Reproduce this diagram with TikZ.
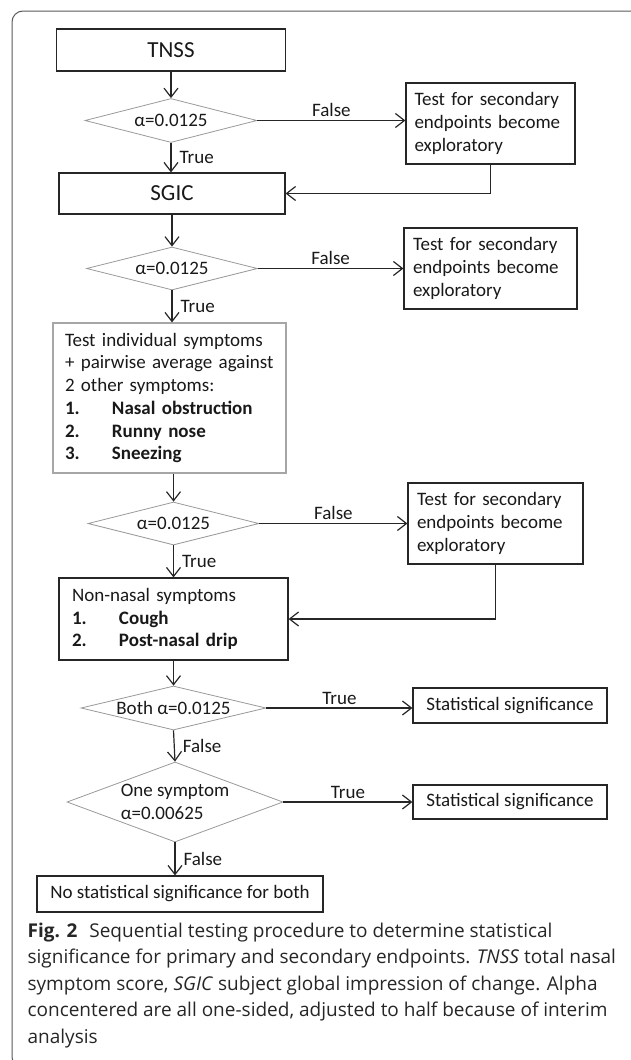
\documentclass[tikz,border=0pt]{standalone}
\usepackage{fontspec}
\setmainfont{Carlito}
\newfontfamily\capfont{Open Sans}
\usetikzlibrary{shapes.geometric,arrows.meta}
\newcommand{\listrow}[2]{\makebox[47pt][l]{\textbf{#1}}\textbf{#2}}
\begin{document}
\begin{tikzpicture}[
    x=1pt, y=-1pt,
    line width=1.2pt,
    every node/.style={font=\fontsize{19}{22.7}\selectfont, text=black!90},
    box/.style={draw=black!85, rectangle, inner sep=0pt},
    graybox/.style={draw=black!35, rectangle, inner sep=0pt},
    decision/.style={draw=black!40, line width=0.8pt, diamond, aspect=3.9, inner sep=0pt},
    flow/.style={draw=black!85, -{Straight Barb[length=9pt,width=14pt]}},
    tag/.style={inner sep=3pt},
    sidetag/.style={inner sep=3pt, right=5pt}]
  \useasboundingbox (0,0) rectangle (630,1060);
  % outer frame
  \draw[black!65, line width=1pt, rounded corners=11pt] (12,11) rectangle (642,1068);

  % primary endpoint
  \node[box, minimum width=229pt, minimum height=42pt,
        font=\fontsize{23}{27}\selectfont] (tnss) at (171,50) {TNSS};
  \node[decision, minimum width=172pt, minimum height=44pt] (d1) at (171,120.5) {α=0.0125};
  \node[box, text width=152pt, inner xsep=8.5pt, minimum height=81pt, align=left]
        (sec1) at (490.5,123.5) {Test for secondary\\endpoints become\\exploratory};

  % key secondary endpoint
  \node[box, minimum width=226pt, minimum height=41pt,
        font=\fontsize{23}{27}\selectfont] (sgic) at (172,193.5) {SGIC};
  \node[decision, minimum width=171pt, minimum height=43pt] (d2) at (172,268.5) {α=0.0125};
  \node[box, text width=155pt, inner xsep=9pt, minimum height=81pt, align=left]
        (sec2) at (490.5,268.5) {Test for secondary\\endpoints become\\exploratory};

  % individual symptoms
  \node[graybox, text width=209pt, inner xsep=12pt, minimum height=150pt, align=left]
        (indiv) at (169.5,398) {Test individual symptoms\\+ pairwise average against\\2 other symptoms:\\
        \listrow{1.}{Nasal obstruction}\\\listrow{2.}{Runny nose}\\\listrow{3.}{Sneezing}};
  \node[decision, minimum width=171pt, minimum height=43pt] (d3) at (173.5,523.5) {α=0.0125};
  \node[box, text width=157pt, inner xsep=9pt, minimum height=81pt, align=left]
        (sec3) at (495.5,523.5) {Test for secondary\\endpoints become\\exploratory};

  % non-nasal symptoms
  \node[box, text width=203pt, inner xsep=13pt, minimum height=82pt, align=left]
        (nonnasal) at (173.5,619) {Non-nasal symptoms\\\listrow{1.}{Cough}\\\listrow{2.}{Post-nasal drip}};
  \node[decision, minimum width=185pt, minimum height=44pt] (d4) at (173.5,708) {Both α=0.0125};
  \node[box, minimum width=194pt, minimum height=35pt] (sig1) at (510,705.5) {Statistical significance};
  \node[decision, aspect=2.7, minimum width=216pt, minimum height=80pt, align=left] (d5) at (175,802)
        {One symptom\\α=0.00625};
  \node[box, minimum width=194pt, minimum height=34pt] (sig2) at (510,802) {Statistical significance};
  \node[box, minimum width=286pt, minimum height=36pt] (nosig) at (180,894)
        {No statistical significance for both};

  % connectors
  \draw[flow] (tnss.south) -- (d1.north);
  \draw[flow] (d1.east) -- node[tag, above] {False} (d1.east -| sec1.west);
  \draw[flow] (d1.south) -- node[sidetag] {True} (d1.south |- sgic.north);
  \draw[flow] (sec1.south) |- (sgic.east);
  \draw[flow] (sgic.south) -- (sgic.south |- d2.north);
  \draw[flow] (d2.east) -- node[tag, above] {False} (d2.east -| sec2.west);
  \draw[flow] (d2.south) -- node[sidetag] {True} (d2.south |- indiv.north);
  \draw[flow] (d3.south |- indiv.south) -- (d3.north);
  \draw[flow] (d3.east) -- node[tag, above] {False} (d3.east -| sec3.west);
  \draw[flow] (d3.south) -- node[sidetag] {True} (nonnasal.north);
  \draw[flow] (sec3.south) |- (nonnasal.east);
  \draw[flow] (nonnasal.south) -- (d4.north);
  \draw[flow] (d4.east) -- node[tag, above] {True} (d4.east -| sig1.west);
  \draw[flow] (d4.south) -- node[sidetag] {False} (d5.north);
  \draw[flow] (d5.east) -- node[tag, above] {True} (sig2.west);
  \draw[flow] (d5.south) -- node[sidetag] {False} (d5.south |- nosig.north);

  % caption
  \node[anchor=north west, align=left, inner sep=0pt, text=black!85,
        font=\capfont\fontsize{19}{26.5}\selectfont] (caption) at (27,922)
        {\textbf{Fig. 2}\hspace{12pt}Sequential testing procedure to determine statistical\\
         significance for primary and secondary endpoints. \textit{TNSS} total nasal\\
         symptom score, \textit{SGIC} subject global impression of change. Alpha\\
         concentered are all one-sided, adjusted to half because of interim\\
         analysis};
\end{tikzpicture}
\end{document}
